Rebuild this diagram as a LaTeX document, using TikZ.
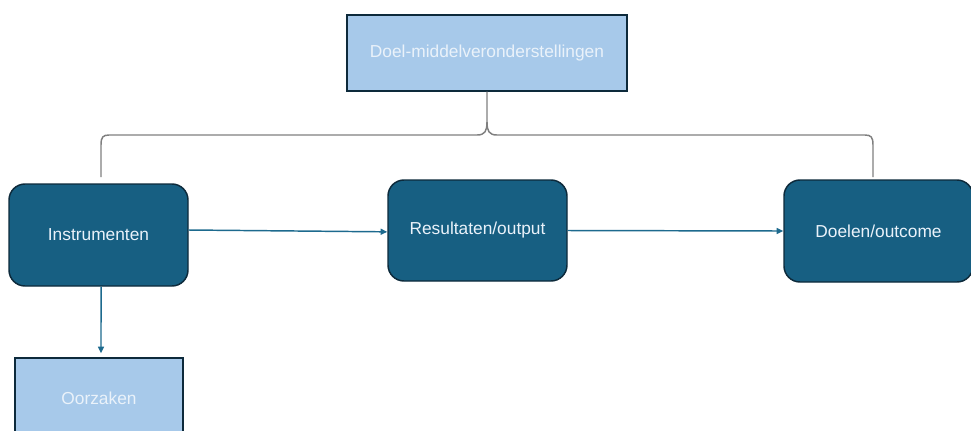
\documentclass[tikz,border=0pt]{standalone}
\usepackage{fontspec}
\setmainfont{Liberation Sans}
\usetikzlibrary{arrows.meta}
\definecolor{darkfill}{HTML}{175F82}
\definecolor{lightfill}{HTML}{A7C9EA}
\definecolor{edgeline}{HTML}{0D2A3B}
\definecolor{linkblue}{HTML}{1D6A8E}
\definecolor{bracegray}{HTML}{7F7F7F}
\definecolor{softwhite}{HTML}{EAF2FA}
\tikzset{
  darkbox/.style={draw=edgeline, line width=1.1pt, fill=darkfill, rounded corners=12pt,
    text=softwhite, font=\fontsize{13}{15}\selectfont, inner sep=0pt},
  lightbox/.style={draw=edgeline, line width=1.1pt, fill=lightfill,
    text=softwhite, font=\fontsize{13}{15}\selectfont, inner sep=0pt},
  link/.style={draw=linkblue, line width=1.1pt, -{Triangle[length=5pt,width=4.5pt]}},
  bracket/.style={draw=bracegray, line width=1.1pt}
}
\begin{document}
\begin{tikzpicture}[x=0.75pt, y=-0.75pt]
\useasboundingbox (0,0) rectangle (971,430);
\clip (0,0) rectangle (971,430);

% boxes
\node[lightbox, minimum width=210pt, minimum height=57pt] (dm) at (487,53) {Doel-middelveronderstellingen};
\node[darkbox, minimum width=134.25pt, minimum height=76.5pt] (inst) at (98.5,235) {Instrumenten};
\node[darkbox, minimum width=134.25pt, minimum height=75.75pt] (res) at (477.5,230.5) {Resultaten/output};
\node[darkbox, minimum width=141.75pt, minimum height=76.5pt] (doel) at (878.5,231) {Doelen/outcome};
\node[lightbox, minimum width=126pt, minimum height=60pt] (oorz) at (99,398) {Oorzaken};

% bracket joining the assumptions to instruments and goals
\coordinate (bl) at (101,177);
\coordinate (br) at (873,177);
\draw[bracket] (bl) -- (101,145) .. controls (101,137) and (103,135) .. (109,135)
  -- (477,135) .. controls (485,135) and (487,131) .. (487,122) -- (dm.south);
\draw[bracket] (br) -- (873,145) .. controls (873,137) and (871,135) .. (865,135)
  -- (497,135) .. controls (489,135) and (487,131) .. (487,122);

% flow arrows
\draw[link] ([yshift=3.75pt]inst.east) -- ([yshift=-1pt]res.west);
\draw[link] (res.east) -- (doel.west);
\draw[link] ([xshift=1.9pt]inst.south) -- ([xshift=1.5pt,yshift=3pt]oorz.north);
\end{tikzpicture}
\end{document}
